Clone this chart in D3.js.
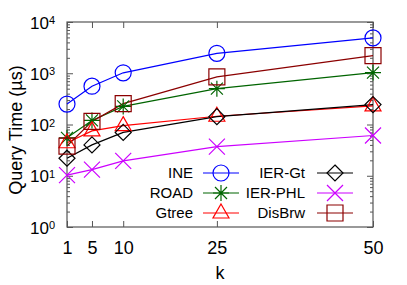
<!DOCTYPE html>
<html>
<head>
<meta charset="utf-8">
<script src="https://cdn.jsdelivr.net/npm/d3@7"></script>
<style>
  body { margin: 0; background: #fff; }
  svg { display: block; font-family: "Liberation Sans", Arial, sans-serif; }
</style>
</head>
<body>
<svg id="chart" width="407" height="285"></svg>
<script>
const kValues = [1, 5, 10, 25, 50];
const ine = [250, 560, 1020, 2450, 4900];
const road = [55, 120, 225, 500, 1030];
const gtree = [44, 75, 95, 145, 230];
const ierGt = [22, 40, 70, 142, 245];
const ierPhl = [10.3, 13.2, 19.5, 37, 61];
const disBrw = [38, 115, 255, 850, 2200];
const yMajorTicks = [1, 10, 100, 1000, 10000];

const seriesList = [
  {name: 'INE', values: ine, color: '#0000ff', symbol: 'circle'},
  {name: 'ROAD', values: road, color: '#006400', symbol: 'star'},
  {name: 'Gtree', values: gtree, color: '#ff0000', symbol: 'triangle'},
  {name: 'IER-Gt', values: ierGt, color: '#000000', symbol: 'diamond'},
  {name: 'IER-PHL', values: ierPhl, color: '#cc00ff', symbol: 'cross'},
  {name: 'DisBrw', values: disBrw, color: '#8b0000', symbol: 'square'}
];

const margin = {left: 67, right: 34, top: 22, bottom: 58};
const width = 407 - margin.left - margin.right;
const height = 285 - margin.top - margin.bottom;

const svg = d3.select('#chart');
const g = svg.append('g').attr('transform', `translate(${margin.left},${margin.top})`);

const x = d3.scaleLinear().domain([1, 50]).range([0, width]);
const y = d3.scaleLog().domain([1, 10000]).range([height, 0]);

// minor ticks on the log axis
let yMinor = [];
for (let d = 1; d < 10000; d *= 10) {
  for (let m = 2; m <= 9; m++) yMinor.push(d * m);
}

function styleAxis(sel) {
  sel.select('.domain').remove();
  sel.selectAll('line').attr('stroke', '#555').attr('stroke-width', 1);
}

g.append('g').call(d3.axisLeft(y).tickValues(yMinor).tickSize(-3).tickFormat('')).call(styleAxis);
g.append('g').attr('transform', `translate(${width},0)`)
  .call(d3.axisRight(y).tickValues(yMinor).tickSize(-3).tickFormat('')).call(styleAxis);
g.append('g').attr('transform', `translate(${width},0)`)
  .call(d3.axisRight(y).tickValues(yMajorTicks).tickSize(-6).tickFormat('')).call(styleAxis);

const yAxis = g.append('g').call(d3.axisLeft(y).tickValues(yMajorTicks).tickSize(-6).tickFormat(''));
styleAxis(yAxis);
yAxis.selectAll('.tick').each(function(d) {
  const t = d3.select(this).append('text')
    .attr('x', -12).attr('dy', '0.36em')
    .attr('text-anchor', 'end').attr('fill', '#000')
    .style('font-size', '17px');
  t.append('tspan').text('10');
  t.append('tspan').attr('dy', '-0.42em').style('font-size', '11px').text(Math.round(Math.log10(d)));
});

const xAxis = g.append('g').attr('transform', `translate(0,${height})`)
  .call(d3.axisBottom(x).tickValues(kValues).tickSize(-6).tickPadding(14));
styleAxis(xAxis);
xAxis.selectAll('text').attr('fill', '#000').style('font-size', '18px');
g.append('g').call(d3.axisTop(x).tickValues(kValues).tickSize(-6).tickFormat('')).call(styleAxis);

g.append('rect').attr('width', width).attr('height', height)
  .attr('fill', 'none').attr('stroke', '#555').attr('stroke-width', 1.2);

svg.append('text').attr('x', margin.left + width / 2).attr('y', 279)
  .attr('text-anchor', 'middle').style('font-size', '18px').text('k');
svg.append('text').attr('transform', 'translate(22,130) rotate(-90)')
  .attr('text-anchor', 'middle').style('font-size', '18px').text('Query Time (µs)');

function symbolPath(type) {
  const r = 8;
  switch (type) {
    case 'circle': return `M${-r},0A${r},${r} 0 1,0 ${r},0A${r},${r} 0 1,0 ${-r},0Z`;
    case 'square': return `M-8,-8H8V8H-8Z`;
    case 'triangle': return `M0,-9L8,5H-8Z`;
    case 'diamond': return `M0,-8L8,0L0,8L-8,0Z`;
    case 'cross': return `M-8,-8L8,8M-8,8L8,-8`;
    case 'star': return `M-8,0H8M0,-8V8M-6,-6L6,6M-6,6L6,-6`;
  }
}

const line = d3.line().x((d, i) => x(kValues[i])).y(d => y(d));

seriesList.forEach(s => {
  g.append('path').datum(s.values).attr('d', line)
    .attr('fill', 'none').attr('stroke', s.color).attr('stroke-width', 1.2);
});
seriesList.forEach(s => {
  g.selectAll(null).data(s.values).enter().append('path')
    .attr('transform', (d, i) => `translate(${x(kValues[i])},${y(d)})`)
    .attr('d', symbolPath(s.symbol))
    .attr('fill', 'none').attr('stroke', s.color).attr('stroke-width', 1.2);
});

// legend, two columns
const legend = svg.append('g');
seriesList.forEach((s, i) => {
  const col = Math.floor(i / 3), row = i % 3;
  const textX = col === 0 ? 193 : 305;
  const lineX = col === 0 ? 203 : 317;
  const rowY = 173 + row * 20;
  legend.append('text').attr('x', textX).attr('y', rowY).attr('dy', '0.35em')
    .attr('text-anchor', 'end').style('font-size', '15px').text(s.name);
  legend.append('line').attr('x1', lineX).attr('x2', lineX + 36)
    .attr('y1', rowY).attr('y2', rowY).attr('stroke', s.color).attr('stroke-width', 1.2);
  legend.append('path').attr('transform', `translate(${lineX + 18},${rowY})`)
    .attr('d', symbolPath(s.symbol)).attr('fill', 'none')
    .attr('stroke', s.color).attr('stroke-width', 1.2);
});
</script>
</body>
</html>
